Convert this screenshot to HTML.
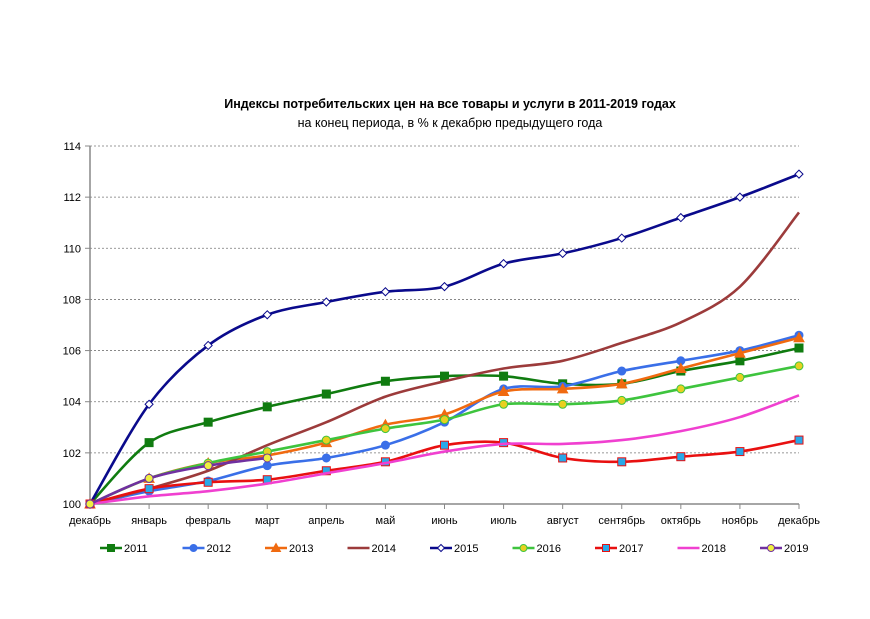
<!DOCTYPE html>
<html><head><meta charset="utf-8"><style>
body{margin:0;background:#fff;font-family:"Liberation Sans",sans-serif}
</style></head><body>
<svg id="c" width="870" height="614" xmlns="http://www.w3.org/2000/svg" font-family="'Liberation Sans',sans-serif">
<text x="450" y="108" text-anchor="middle" font-size="12.5" font-weight="bold">Индексы потребительских цен на все товары и услуги в 2011-2019 годах</text>
<text x="450" y="127" text-anchor="middle" font-size="12.5">на конец периода, в % к декабрю предыдущего года</text>
<g id="grid"></g><g id="axes"></g><g id="series"></g><g id="legend"></g>
</svg>
<script>
const months=["декабрь","январь","февраль","март","апрель","май","июнь","июль","август","сентябрь","октябрь","ноябрь","декабрь"];
const yTicks=[100,102,104,106,108,110,112,114];
const years=["2011","2012","2013","2014","2015","2016","2017","2018","2019"];
const s2011=[100,102.4,103.2,103.8,104.3,104.8,105.0,105.0,104.7,104.7,105.2,105.6,106.1];
const s2012=[100,100.5,100.9,101.5,101.8,102.3,103.2,104.5,104.6,105.2,105.6,106.0,106.6];
const s2013=[100,101.0,101.6,101.9,102.4,103.1,103.5,104.4,104.5,104.7,105.3,105.9,106.5];
const s2014=[100,100.6,101.3,102.3,103.2,104.2,104.8,105.3,105.6,106.3,107.1,108.5,111.4];
const s2015=[100,103.9,106.2,107.4,107.9,108.3,108.5,109.4,109.8,110.4,111.2,112.0,112.9];
const s2016=[100,101.0,101.6,102.05,102.5,102.95,103.3,103.9,103.9,104.05,104.5,104.95,105.4];
const s2017=[100,100.6,100.85,100.95,101.3,101.65,102.3,102.4,101.8,101.65,101.85,102.05,102.5];
const s2018=[100,100.3,100.5,100.8,101.2,101.6,102.05,102.35,102.35,102.5,102.85,103.4,104.25];
const s2019=[100,101.0,101.5,101.8];
const NS="http://www.w3.org/2000/svg";
const X0=90,X1=799,Y0=504,Y1=146;
const xs=i=>X0+(X1-X0)*i/12;
const ys=v=>Y0-(v-100)/14*(Y0-Y1);
function el(t,a,p){const e=document.createElementNS(NS,t);for(const k in a)e.setAttribute(k,a[k]);p.appendChild(e);return e;}
const grid=document.getElementById('grid'),axes=document.getElementById('axes');
yTicks.forEach(t=>{
 if(t>100){const g=el('line',{x1:X0,x2:X1,y1:ys(t),y2:ys(t),stroke:'#777','stroke-dasharray':'2,2','stroke-width':0.8},grid);
 
 }
 const tk=el('line',{x1:X0-5,x2:X0,y1:ys(t),y2:ys(t),stroke:'#888'},axes);
 
 
 const tx=el('text',{x:X0-9,y:ys(t)+4,'text-anchor':'end','font-size':11},axes);tx.textContent=t;
 
 
});
const ya=el('line',{x1:X0,x2:X0,y1:Y1,y2:Y0,stroke:'#888','stroke-width':1.5},axes);


const xa=el('line',{x1:X0,x2:X1,y1:Y0,y2:Y0,stroke:'#888','stroke-width':1.5},axes);


months.forEach((m,i)=>{
 const tk=el('line',{x1:xs(i),x2:xs(i),y1:Y0,y2:Y0+5,stroke:'#888'},axes);
 
 
 const tx=el('text',{x:xs(i),y:Y0+20,'text-anchor':'middle','font-size':11},axes);tx.textContent=m;
 
 
});
const cfg=[
 {d:s2011,c:'#107c10',m:'sq',f:'#107c10'},
 {d:s2012,c:'#3a6fe8',m:'ci',f:'#3a6fe8'},
 {d:s2013,c:'#f06a10',m:'tr',f:'#f06a10'},
 {d:s2014,c:'#9c3b3b',m:null},
 {d:s2015,c:'#0a0a8c',m:'di',f:'#fff'},
 {d:s2016,c:'#3ec43e',m:'ci',f:'#e8d020'},
 {d:s2017,c:'#e81010',m:'sq',f:'#28a8e8'},
 {d:s2018,c:'#f040d0',m:null},
 {d:s2019,c:'#7030a0',m:'ci',f:'#f0f040'}];
function path(pts){let d='M'+pts[0][0]+','+pts[0][1];
 for(let i=0;i<pts.length-1;i++){const p0=pts[i-1]||pts[i],p1=pts[i],p2=pts[i+1],p3=pts[i+2]||p2;
 const k=0.16;d+=' C'+(p1[0]+(p2[0]-p0[0])*k)+','+(p1[1]+(p2[1]-p0[1])*k)+' '+(p2[0]-(p3[0]-p1[0])*k)+','+(p2[1]-(p3[1]-p1[1])*k)+' '+p2[0]+','+p2[1];}
 return d;}
function marker(g,type,x,y,c,f,r){
 if(type==='sq')return el('rect',{x:x-r,y:y-r,width:2*r,height:2*r,fill:f,stroke:c,'stroke-width':1},g);
 if(type==='ci')return el('circle',{cx:x,cy:y,r:r,fill:f,stroke:c,'stroke-width':1},g);
 if(type==='tr')return el('polygon',{points:`${x},${y-r-1} ${x+r+1},${y+r} ${x-r-1},${y+r}`,fill:f,stroke:c},g);
 if(type==='di')return el('polygon',{points:`${x},${y-r} ${x+r},${y} ${x},${y+r} ${x-r},${y}`,fill:f,stroke:c,'stroke-width':1},g);
}
const S=document.getElementById('series'),L=document.getElementById('legend');
cfg.forEach((s,k)=>{
 const g=el('g',{},S);
 
 
 const pts=s.d.map((v,i)=>[xs(i),ys(v)]);
 const p=el('path',{d:path(pts),fill:'none',stroke:s.c,'stroke-width':2.6},g);
 
 
 if(s.m)pts.forEach(q=>{const m=marker(g,s.m,q[0],q[1],s.c,s.f,4);
  
  });
 const lx=100+k*82.5,ly=548;
 const lg=el('g',{},L);
 
 
 el('line',{x1:lx,x2:lx+22,y1:ly,y2:ly,stroke:s.c,'stroke-width':2.6},lg);
 if(s.m)marker(lg,s.m,lx+11,ly,s.c,s.f,3.5);
 const t=el('text',{x:lx+24,y:ly+4,'font-size':11},lg);t.textContent=years[k];
});
</script>
</body></html>
